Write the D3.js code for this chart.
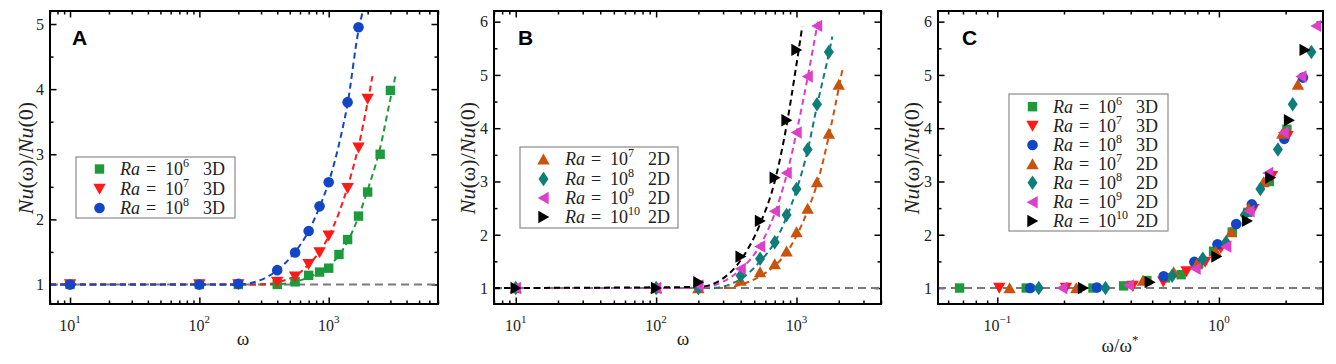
<!DOCTYPE html>
<html><head><meta charset="utf-8">
<script src="https://cdn.jsdelivr.net/npm/d3@7"></script>
<style>body{margin:0;background:#fff;} svg{display:block;}</style>
</head><body><svg id="c" width="1336" height="364"></svg>
<script>
// ---------------- DATA ----------------
// Panel A (3D)
const ra6_3d_w  = [10,100,200,400,550,700,850,1000,1200,1400,1700,2000,2500,3000];
const ra6_3d_nu = [1,1,1,1.0,1.04,1.14,1.19,1.25,1.46,1.69,2.05,2.42,3.0,3.98];
const ra7_3d_w  = [10,100,200,400,550,700,850,1000,1400,1700,2000];
const ra7_3d_nu = [1,1,1,1.04,1.12,1.31,1.49,1.75,2.48,3.10,3.85];
const ra8_3d_w  = [10,100,200,400,550,700,850,1000,1400,1700];
const ra8_3d_nu = [1,1,1.01,1.22,1.49,1.82,2.20,2.57,3.80,4.95];
// Panel B (2D)
const ra7_2d_w  = [10,100,200,400,550,700,850,1000,1200,1400,1700,2000];
const ra7_2d_nu = [1,1,1,1.14,1.30,1.45,1.69,2.05,2.49,2.99,3.90,4.82];
const ra8_2d_w  = [10,100,200,400,550,700,850,1000,1200,1400,1700];
const ra8_2d_nu = [1,1,1.0,1.23,1.55,1.86,2.37,2.86,3.60,4.45,5.43];
const ra9_2d_w  = [10,100,200,400,550,700,850,1000,1200,1400];
const ra9_2d_nu = [1,1,1.05,1.36,1.78,2.44,3.16,3.92,4.97,5.92];
const ra10_2d_w = [10,100,200,400,550,700,850,1000];
const ra10_2d_nu= [1,1,1.11,1.59,2.26,3.07,4.15,5.47];
// omega* per series (panel C normalisation)
const omegaStar = [1480, 980, 710, 880, 650, 510, 410];
// dashed fit curves
const fitA6_w  = [7,350,450,550,700,850,1000,1200,1400,1700,2000,2500,3000,3300];
const fitA6_nu = [1,1,1.01,1.04,1.11,1.19,1.28,1.45,1.66,2.04,2.45,3.1,3.85,4.22];
const fitA7_w  = [7,250,350,450,550,700,850,1000,1200,1400,1700,2000,2180];
const fitA7_nu = [1,1,1.01,1.06,1.13,1.31,1.5,1.74,2.1,2.5,3.12,3.8,4.2];
const fitA8_w  = [7,200,300,400,550,700,850,1000,1200,1400,1700,1820];
const fitA8_nu = [1,1,1.07,1.22,1.5,1.82,2.19,2.57,3.15,3.78,4.9,5.17];
const fitB7_w  = [7,300,400,550,700,850,1000,1200,1400,1700,2000,2120];
const fitB7_nu = [1,1,1.06,1.22,1.42,1.66,1.98,2.45,2.95,3.85,4.75,5.09];
const fitB8_w  = [7,250,400,550,700,850,1000,1200,1400,1700,1800];
const fitB8_nu = [1,1,1.17,1.5,1.86,2.33,2.84,3.58,4.42,5.4,5.72];
const fitB9_w  = [7,200,300,400,550,700,850,1000,1200,1420];
const fitB9_nu = [1,1,1.12,1.35,1.8,2.4,3.12,3.92,4.95,6.0];
const fitB10_w = [7,200,300,400,550,700,850,1000,1100];
const fitB10_nu= [1,1.02,1.18,1.52,2.2,3.0,4.05,5.2,5.91];
// axes
const xTicksAB = [10,100,1000];
const xExpAB = ["1","2","3"];
const xTicksC = [0.1,1];
const xExpC = ["\u22121","0"];
const yTicksA = [1,2,3,4,5];
const yTicksBC = [1,2,3,4,5,6];
// legend labels
const legExpA = ["6","7","8"];  const legDimA = ["3D","3D","3D"];
const legExpB = ["7","8","9","10"]; const legDimB = ["2D","2D","2D","2D"];
const legExpC = ["6","7","8","7","8","9","10"];
const legDimC = ["3D","3D","3D","2D","2D","2D","2D"];

// ---------------- STYLE ----------------
const COL = {g:"#1c9a3c", r:"#ff1a1a", b:"#1346c6", o:"#c9520c", t:"#0f7d7a", m:"#dc3fc8", k:"#000000"};
const SERIF = "'Liberation Serif','DejaVu Serif',serif";

function markerPath(type){
  switch(type){
    case "square": return "M-4.7,-4.7h9.4v9.4h-9.4z";
    case "circle": return d3.symbol(d3.symbolCircle, 88)();
    case "tdown": return "M-6.2,-5.2L6.2,-5.2L0,5.8Z";
    case "tup": return "M-6.2,5.2L6.2,5.2L0,-5.8Z";
    case "tleft": return "M5.2,-6.2L5.2,6.2L-5.8,0Z";
    case "tright": return "M-5.2,-6.2L-5.2,6.2L5.8,0Z";
    case "diamond": return "M0,-7.2L5,0L0,7.2L-5,0Z";
  }
}

const svg = d3.select("#c");
svg.append("rect").attr("width",1336).attr("height",364).attr("fill","#fff");

function panel(cfg){
  const g = svg.append("g");
  const x = d3.scaleLog().domain(cfg.xDomain).range([cfg.left, cfg.right]);
  const y = d3.scaleLinear().domain(cfg.yDomain).range([cfg.bottom, cfg.top]);
  const minorX = x.ticks().filter(v => !cfg.xTicks.some(t => Math.abs(t-v)/t < 1e-6));
  const minorY = y.ticks(10).filter(v => !cfg.yTicks.includes(v));
  const mk = (ax, vals, size) => ax.tickValues(vals).tickSize(size).tickFormat("");
  const axes = [
    [d3.axisBottom(x), `translate(0,${cfg.bottom})`, true],
    [d3.axisTop(x), `translate(0,${cfg.top})`, true],
    [d3.axisLeft(y), `translate(${cfg.left},0)`, false],
    [d3.axisRight(y), `translate(${cfg.right},0)`, false]
  ];
  const axG = g.append("g");
  // content group (lines & markers) drawn before axes frame
  const content = g.append("g");
  axes.forEach(([ax, tr, isX]) => {
    const a1 = axG.append("g").attr("transform", tr).call(mk(ax, isX?cfg.xTicks:cfg.yTicks, -6.5));
    const a2 = axG.append("g").attr("transform", tr).call(mk(isX ? (ax.scale()===x? (tr.includes(cfg.bottom)? d3.axisBottom(x): d3.axisTop(x)) : ax) : (tr.startsWith(`translate(${cfg.left}`)? d3.axisLeft(y): d3.axisRight(y)), isX?minorX:minorY, -3.5));
    [a1,a2].forEach(a => { a.select(".domain").remove(); a.selectAll("line").attr("stroke","#000").attr("stroke-width",1.5); });
  });
  g.append("rect").attr("x",cfg.left).attr("y",cfg.top)
    .attr("width",cfg.right-cfg.left).attr("height",cfg.bottom-cfg.top)
    .attr("fill","none").attr("stroke","#000").attr("stroke-width",2);
  // tick labels
  cfg.xTicks.forEach((v,i) => {
    const t = g.append("text").attr("x", x(v)).attr("y", 331).attr("text-anchor","middle")
      .attr("font-family", SERIF).attr("font-size", 16).attr("fill","#222");
    t.append("tspan").text("10");
    t.append("tspan").attr("dy",-8).attr("font-size",11).text(cfg.xExp[i]);
  });
  cfg.yTicks.forEach(v => {
    g.append("text").attr("x", cfg.left-6).attr("y", y(v)).attr("dy","0.36em")
      .attr("text-anchor","end").attr("font-family",SERIF).attr("font-size",16).attr("fill","#222").text(v);
  });
  // y label
  const yl = g.append("text").attr("transform",`translate(${cfg.ylx},${cfg.yly}) rotate(-90)`)
    .attr("text-anchor","middle").attr("dy","0.35em").attr("font-family",SERIF).attr("font-size",22).attr("fill","#222");
  yl.append("tspan").attr("font-style","italic").text("Nu");
  yl.append("tspan").text("(\u03c9)/");
  yl.append("tspan").attr("font-style","italic").text("Nu");
  yl.append("tspan").text("(0)");
  // panel letter
  g.append("text").attr("x", cfg.letterX).attr("y", 45).attr("font-family","'Liberation Sans','DejaVu Sans',sans-serif")
    .attr("font-weight","bold").attr("font-size",21).attr("fill","#000").text(cfg.letter);
  // reference line at 1
  content.append("line").attr("x1",cfg.left).attr("x2",cfg.right).attr("y1",y(1)).attr("y2",y(1))
    .attr("stroke","#7a7a7a").attr("stroke-width",2).attr("stroke-dasharray","8,5");
  return {g, content, x, y};
}

function drawFit(P, ws, nus, color){
  const line = d3.line().x(d=>P.x(d[0])).y(d=>P.y(d[1])).curve(d3.curveMonotoneX);
  P.content.append("path").attr("d", line(ws.map((w,i)=>[w,nus[i]])))
    .attr("fill","none").attr("stroke",color).attr("stroke-width",2).attr("stroke-dasharray","6,4");
}
function drawPts(P, xs, ys, type, color){
  const dom = P.x.domain();
  P.content.selectAll(null).data(xs.map((v,i)=>[v,ys[i]]).filter(d=>d[0]>=dom[0]&&d[0]<=dom[1]))
    .enter().append("path").attr("d", markerPath(type))
    .attr("transform", d=>`translate(${P.x(d[0])},${P.y(d[1])})`).attr("fill",color);
}
function legend(g, box, rows, x0, markers, colors, exps, dims){
  g.append("rect").attr("x",box[0]).attr("y",box[1]).attr("width",box[2]-box[0]).attr("height",box[3]-box[1])
    .attr("fill","#fff").attr("stroke","#8a8a8a").attr("stroke-width",1.2);
  rows.forEach((ry,i) => {
    g.append("path").attr("d", markerPath(markers[i])).attr("transform",`translate(${box[0]+23.5},${ry})`).attr("fill",colors[i]);
    const t = g.append("text").attr("y", ry+6).attr("font-family",SERIF).attr("font-size",18).attr("fill","#222");
    t.append("tspan").attr("x",x0).attr("font-style","italic").text("Ra");
    t.append("tspan").attr("x",x0+26).text("=");
    t.append("tspan").attr("x",x0+45).text("10");
    t.append("tspan").attr("dy",-8).attr("font-size",12).text(exps[i]);
    t.append("tspan").attr("x",x0+83).attr("dy",8).text(dims[i]);
  });
}

// ---------------- PANEL A ----------------
const PA = panel({left:50,right:438,top:11,bottom:304,xDomain:[7,7000],yDomain:[0.7,5.2],
  xTicks:xTicksAB,xExp:xExpAB,yTicks:yTicksA,ylx:25,yly:158,letter:"A",letterX:72});
drawFit(PA, fitA6_w, fitA6_nu, COL.g);
drawFit(PA, fitA7_w, fitA7_nu, COL.r);
drawFit(PA, fitA8_w, fitA8_nu, COL.b);
drawPts(PA, ra6_3d_w, ra6_3d_nu, "square", COL.g);
drawPts(PA, ra7_3d_w, ra7_3d_nu, "tdown", COL.r);
drawPts(PA, ra8_3d_w, ra8_3d_nu, "circle", COL.b);
legend(PA.g, [76,157,235,218], [169,189,208], 120, ["square","tdown","circle"], [COL.g,COL.r,COL.b], legExpA, legDimA);
PA.g.append("text").attr("x",243).attr("y",345).attr("text-anchor","middle").attr("font-family",SERIF).attr("font-size",19).attr("fill","#222").text("\u03c9");

// ---------------- PANEL B ----------------
const PB = panel({left:494,right:881,top:11,bottom:304,xDomain:[7,4000],yDomain:[0.7,6.2],
  xTicks:xTicksAB,xExp:xExpAB,yTicks:yTicksBC,ylx:467,yly:158,letter:"B",letterX:518});
drawFit(PB, fitB7_w, fitB7_nu, COL.o);
drawFit(PB, fitB8_w, fitB8_nu, COL.t);
drawFit(PB, fitB9_w, fitB9_nu, COL.m);
drawFit(PB, fitB10_w, fitB10_nu, COL.k);
drawPts(PB, ra7_2d_w, ra7_2d_nu, "tup", COL.o);
drawPts(PB, ra8_2d_w, ra8_2d_nu, "diamond", COL.t);
drawPts(PB, ra9_2d_w, ra9_2d_nu, "tleft", COL.m);
drawPts(PB, ra10_2d_w, ra10_2d_nu, "tright", COL.k);
legend(PB.g, [520,147,678,228], [159.3,179,198,217], 565, ["tup","diamond","tleft","tright"], [COL.o,COL.t,COL.m,COL.k], legExpB, legDimB);
PB.g.append("text").attr("x",683).attr("y",345).attr("text-anchor","middle").attr("font-family",SERIF).attr("font-size",19).attr("fill","#222").text("\u03c9");

// ---------------- PANEL C ----------------
const PC = panel({left:938,right:1323,top:11,bottom:304,xDomain:[0.054,2.95],yDomain:[0.7,6.2],
  xTicks:xTicksC,xExp:xExpC,yTicks:yTicksBC,ylx:911,yly:158,letter:"C",letterX:962});
const allW  = [ra6_3d_w, ra7_3d_w, ra8_3d_w, ra7_2d_w, ra8_2d_w, ra9_2d_w, ra10_2d_w];
const allNu = [ra6_3d_nu, ra7_3d_nu, ra8_3d_nu, ra7_2d_nu, ra8_2d_nu, ra9_2d_nu, ra10_2d_nu];
const typesC = ["square","tdown","circle","tup","diamond","tleft","tright"];
const colsC = [COL.g,COL.r,COL.b,COL.o,COL.t,COL.m,COL.k];
allW.forEach((ws,i) => drawPts(PC, ws.map(w => w/omegaStar[i]), allNu[i], typesC[i], colsC[i]));
legend(PC.g, [1009,94,1168,231], [106.7,126,145,164,182.7,202.3,221], 1053, typesC, colsC, legExpC, legDimC);
const xl = PC.g.append("text").attr("x",1120).attr("y",352).attr("text-anchor","middle").attr("font-family",SERIF).attr("font-size",19).attr("fill","#222");
xl.append("tspan").text("\u03c9/\u03c9");
xl.append("tspan").attr("dy",-8).attr("font-size",13).text("*");
</script></body></html>
